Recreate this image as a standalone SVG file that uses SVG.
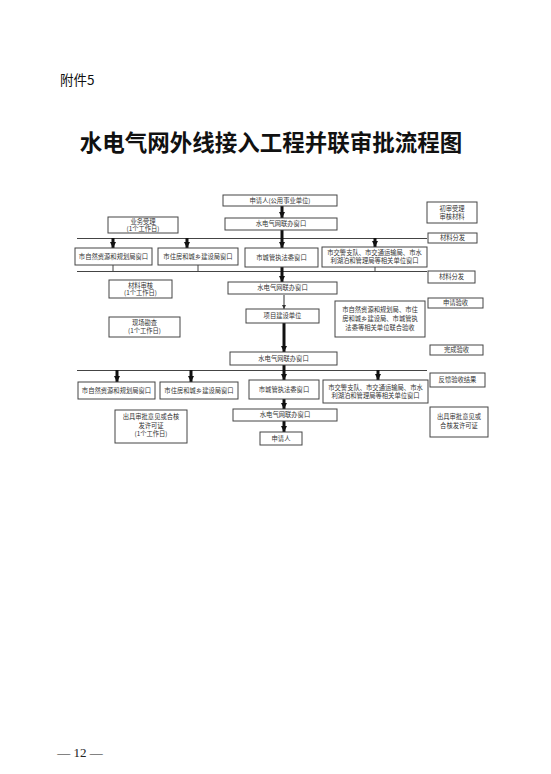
<svg xmlns="http://www.w3.org/2000/svg" width="551" height="774" viewBox="0 0 551 774">
<style>
.bx{fill:#fff;stroke:#444;stroke-width:1}
.t{font-family:"Noto Sans CJK SC","Noto Sans",sans-serif;font-size:6.3px;fill:#333;text-anchor:middle}
.ln{stroke:#444;stroke-width:1;fill:none}
.ar{stroke:#111;stroke-width:3;fill:none;marker-end:url(#ah)}
.ar2{stroke:#333;stroke-width:1;fill:none;marker-end:url(#ah2)}
</style>
<defs>
<marker id="ah" viewBox="0 0 10 10" refX="10" refY="5" markerWidth="7" markerHeight="6" markerUnits="userSpaceOnUse" orient="auto"><path d="M0,0L10,5L0,10z" fill="#111"/></marker>
<marker id="ah2" viewBox="0 0 10 10" refX="10" refY="5" markerWidth="4" markerHeight="4" markerUnits="userSpaceOnUse" orient="auto"><path d="M0,0L10,5L0,10z" fill="#333"/></marker>
</defs>
<rect width="551" height="774" fill="#fff"/>
<text x="60" y="85" font-family="Noto Sans CJK SC,sans-serif" font-size="13.5" fill="#111">附件5</text>
<text x="271" y="151" font-family="Noto Sans CJK SC,sans-serif" font-size="22.5" font-weight="bold" fill="#111" text-anchor="middle">水电气网外线接入工程并联审批流程图</text>
<text x="80" y="757" font-family="Liberation Serif,serif" font-size="13" fill="#222" text-anchor="middle">— 12 —</text>

<g id="connectors">
<line class="ln" x1="77" y1="238.5" x2="427" y2="238.5"/>
<line class="ln" x1="77" y1="271.5" x2="427" y2="271.5"/>
<line class="ln" x1="77" y1="370.5" x2="427" y2="370.5"/>
<line class="ln" x1="113" y1="265" x2="113" y2="271"/>
<line class="ln" x1="198" y1="265" x2="198" y2="271"/>
<line class="ln" x1="375" y1="267" x2="375" y2="271"/>
<line class="ar" x1="282" y1="205" x2="282" y2="218"/>
<line class="ar" x1="282" y1="230" x2="282" y2="248"/>
<line class="ar" x1="113" y1="238" x2="113" y2="248"/>
<line class="ar" x1="187" y1="238" x2="187" y2="248"/>
<line class="ar" x1="375" y1="238" x2="375" y2="247"/>
<line class="ar" x1="282" y1="267" x2="282" y2="282"/>
<line class="ar2" x1="284" y1="295" x2="284" y2="309"/>
<line class="ar" x1="284" y1="323" x2="284" y2="352"/>
<line class="ar" x1="284" y1="365" x2="284" y2="380"/>
<line class="ar" x1="117" y1="370" x2="117" y2="382"/>
<line class="ar" x1="191" y1="370" x2="191" y2="382"/>
<line class="ar" x1="378" y1="370" x2="378" y2="380"/>
<line class="ar" x1="284" y1="399" x2="284" y2="409"/>
<line class="ar" x1="284" y1="421" x2="284" y2="432"/>
</g>

<g id="n-applicant"><rect class="bx" x="223" y="195" width="114" height="11"/><text class="t" x="280" y="202.8">申请人(公用事业单位)</text></g>
<g id="n-window1"><rect class="bx" x="225" y="218" width="112" height="12"/><text class="t" x="281" y="226.3">水电气网联办窗口</text></g>
<g id="n-accept"><rect class="bx" x="108" y="217" width="70" height="16"/><text class="t" x="143" y="223.5">业务受理</text><text class="t" x="143" y="231">(1个工作日)</text></g>

<g id="n-r1a"><rect class="bx" x="75" y="248" width="77" height="17"/><text class="t" x="113.5" y="258.7">市自然资源和规划局窗口</text></g>
<g id="n-r1b"><rect class="bx" x="158" y="248" width="80" height="17"/><text class="t" x="198" y="258.7">市住房和城乡建设局窗口</text></g>
<g id="n-r1c"><rect class="bx" x="245" y="248" width="73" height="19"/><text class="t" x="281.5" y="259.7">市城管执法委窗口</text></g>
<g id="n-r1d"><rect class="bx" x="322" y="247" width="105" height="20"/><text class="t" x="374.5" y="255">市交警支队、市交通运输局、市水</text><text class="t" x="374.5" y="263">利湖泊和管理局等相关单位窗口</text></g>

<g id="n-review"><rect class="bx" x="109" y="280" width="63" height="18"/><text class="t" x="140.5" y="287.5">材料审核</text><text class="t" x="140.5" y="295">(1个工作日)</text></g>
<g id="n-window2"><rect class="bx" x="228" y="282" width="109" height="12"/><text class="t" x="282.5" y="290.3">水电气网联办窗口</text></g>
<g id="n-builder"><rect class="bx" x="246" y="309" width="73" height="14"/><text class="t" x="282.5" y="318.3">项目建设单位</text></g>
<g id="n-survey"><rect class="bx" x="109" y="317" width="71" height="20"/><text class="t" x="144.5" y="325">现场勘查</text><text class="t" x="144.5" y="333">(1个工作日)</text></g>
<g id="n-joint"><rect class="bx" x="335" y="301" width="90" height="36"/><text class="t" x="380" y="312">市自然资源和规划局、市住</text><text class="t" x="380" y="321">房和城乡建设局、市城管执</text><text class="t" x="380" y="330">法委等相关单位联合验收</text></g>
<g id="n-window3"><rect class="bx" x="230" y="352" width="107" height="13"/><text class="t" x="283.5" y="360.8">水电气网联办窗口</text></g>

<g id="n-r2a"><rect class="bx" x="78" y="382" width="77" height="17"/><text class="t" x="116.5" y="392.7">市自然资源和规划局窗口</text></g>
<g id="n-r2b"><rect class="bx" x="160" y="382" width="78" height="17"/><text class="t" x="199" y="392.7">市住房和城乡建设局窗口</text></g>
<g id="n-r2c"><rect class="bx" x="249" y="380" width="70" height="19"/><text class="t" x="284" y="391.7">市城管执法委窗口</text></g>
<g id="n-r2d"><rect class="bx" x="323" y="380" width="105" height="23"/><text class="t" x="375.5" y="389.5">市交警支队、市交通运输局、市水</text><text class="t" x="375.5" y="398">利湖泊和管理局等相关单位窗口</text></g>

<g id="n-issue"><rect class="bx" x="115" y="410" width="72" height="33"/><text class="t" x="151" y="419">出具审批意见或合核</text><text class="t" x="151" y="427.5">发许可证</text><text class="t" x="151" y="436">(1个工作日)</text></g>
<g id="n-window4"><rect class="bx" x="233" y="409" width="104" height="12"/><text class="t" x="285" y="417.3">水电气网联办窗口</text></g>
<g id="n-applicant2"><rect class="bx" x="260" y="432" width="42" height="13"/><text class="t" x="281" y="440.8">申请人</text></g>

<g id="s1"><rect class="bx" x="427" y="202" width="50" height="21"/><text class="t" x="452" y="210.5">初审受理</text><text class="t" x="452" y="218.5">审核材料</text></g>
<g id="s2"><rect class="bx" x="428" y="233" width="49" height="10"/><text class="t" x="452.5" y="240.3">材料分发</text></g>
<g id="s3"><rect class="bx" x="428" y="271" width="47" height="12"/><text class="t" x="451.5" y="279.3">材料分发</text></g>
<g id="s4"><rect class="bx" x="428" y="298" width="55" height="10"/><text class="t" x="455.5" y="305.3">申请验收</text></g>
<g id="s5"><rect class="bx" x="430" y="345" width="53" height="10"/><text class="t" x="456.5" y="352.3">完成验收</text></g>
<g id="s6"><rect class="bx" x="430" y="373" width="55" height="14"/><text class="t" x="457.5" y="382.3">反馈验收结果</text></g>
<g id="s7"><rect class="bx" x="430" y="407" width="58" height="30"/><text class="t" x="459" y="419">出具审批意见或</text><text class="t" x="459" y="428">合核发许可证</text></g>
</svg>
